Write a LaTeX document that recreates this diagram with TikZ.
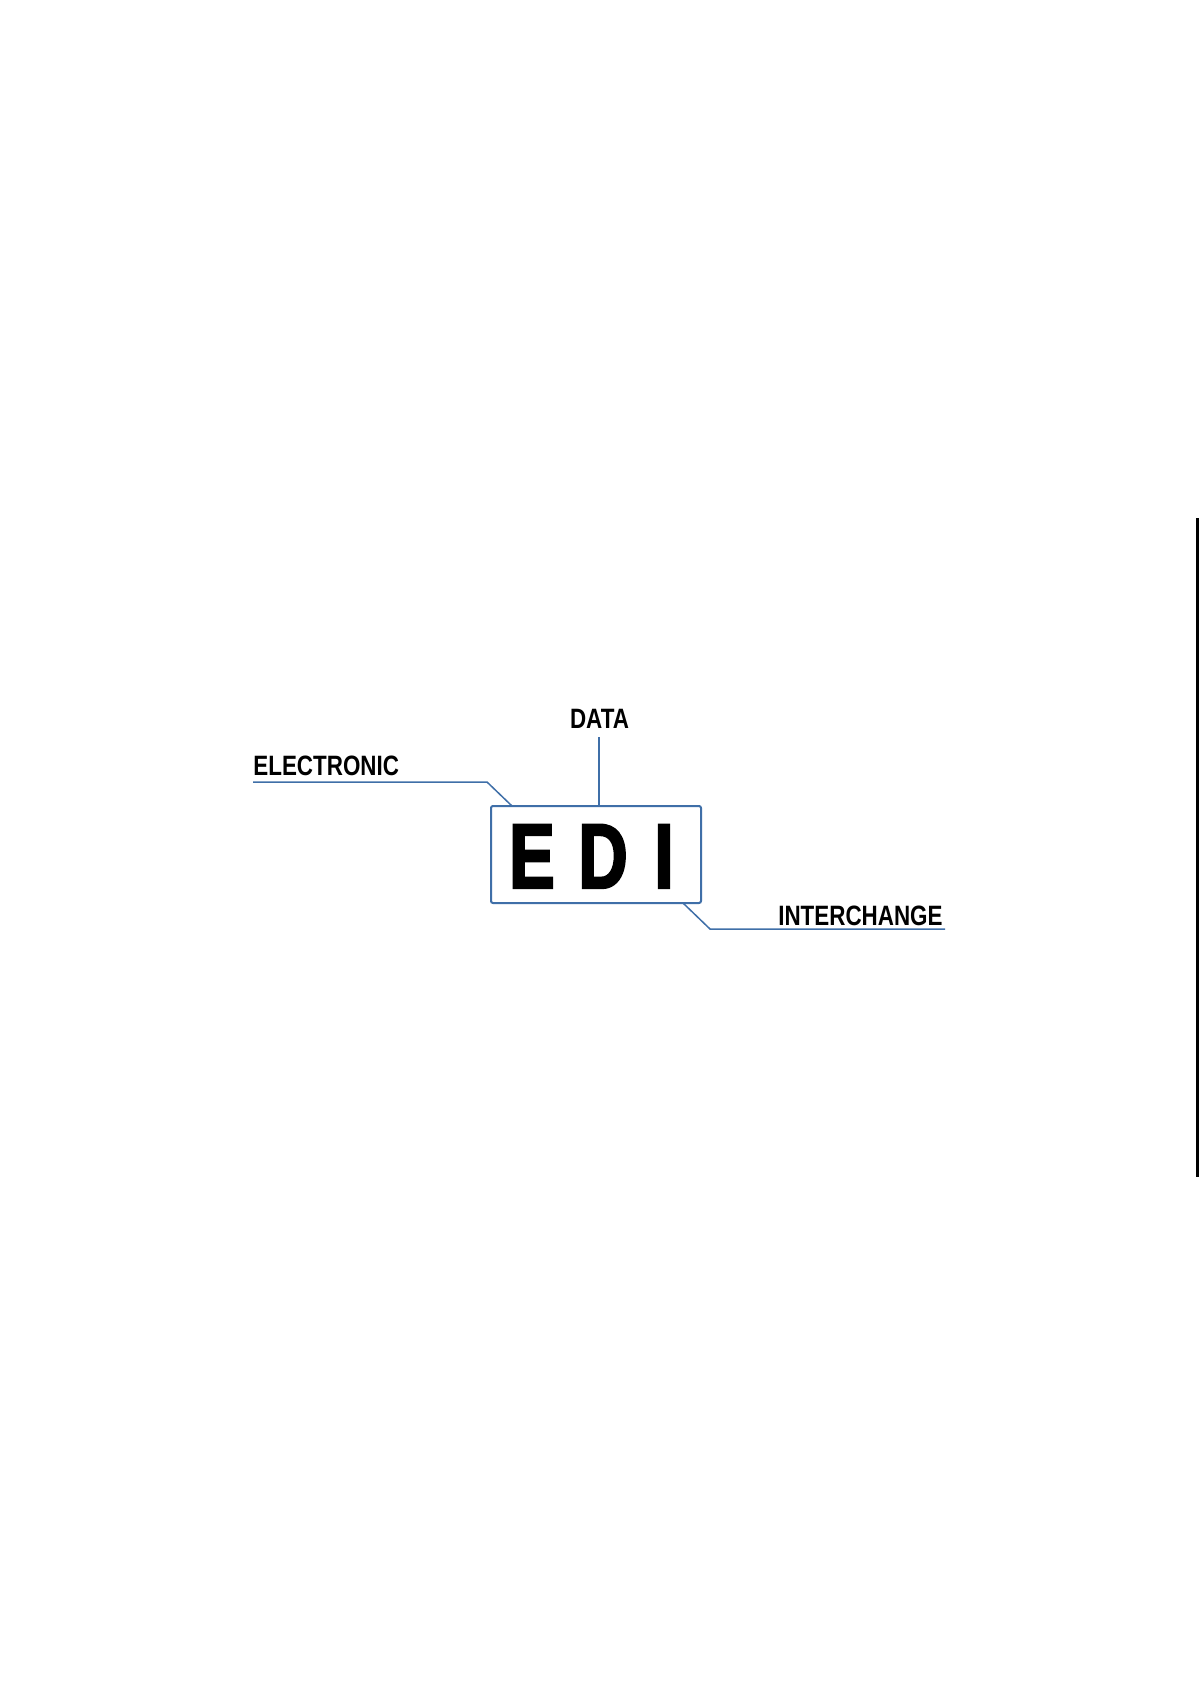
\documentclass[tikz,border=0pt]{standalone}
\usepackage{fontspec}
\newfontfamily\labfont{Liberation Sans}[FakeStretch=0.8]
\newfontfamily\edifont{Liberation Sans}[FakeStretch=0.74, BoldFeatures={FakeBold=2.5}]
\definecolor{lineblue}{HTML}{3F6FA8}
\tikzset{
  lbl/.style={font=\labfont\bfseries\fontsize{14pt}{14pt}\selectfont, inner sep=0pt, anchor=base},
  edil/.style={font=\edifont\bfseries\fontsize{46pt}{46pt}\selectfont, inner sep=0pt, anchor=base},
  conn/.style={draw=lineblue, line width=0.75pt},
  edibox/.style={draw=lineblue, line width=1pt, rounded corners=1pt}
}
\begin{document}
\begin{tikzpicture}[x=0.5pt, y=-0.5pt]
\useasboundingbox[fill=white] (0,0) rectangle (1200,1698);
% main box
\node[edibox, minimum width=105pt, minimum height=48.5pt, inner sep=0pt] (box) at (596,854.5) {};
\node[edil] (e) at (532,888) {E};
\node[edil] (d) at (603,888) {D};
\node[edil] (i) at (664,888) {I};
% labels
\node[lbl, anchor=base west] (elec) at (253,775) {ELECTRONIC};
\node[lbl] (data) at (599.5,728) {DATA};
\node[lbl, anchor=base east] (inter) at (943,925) {INTERCHANGE};
% connectors
\coordinate (ec1) at (253,782);
\coordinate (ec2) at (487,782);
\coordinate (eb) at (512,806);
\draw[conn] (ec1) -- (ec2) -- (eb);
\coordinate (dt) at (599,737);
\coordinate (db) at (599,806);
\draw[conn] (dt) -- (db);
\coordinate (ib) at (683,903);
\coordinate (ic1) at (710,929);
\coordinate (ic2) at (945,929);
\draw[conn] (ib) -- (ic1) -- (ic2);
% right edge rule
\coordinate (rt) at (1197.5,518);
\coordinate (rb) at (1197.5,1177);
\draw[line width=1.5pt, black] (rt) -- (rb);
\end{tikzpicture}
\end{document}
